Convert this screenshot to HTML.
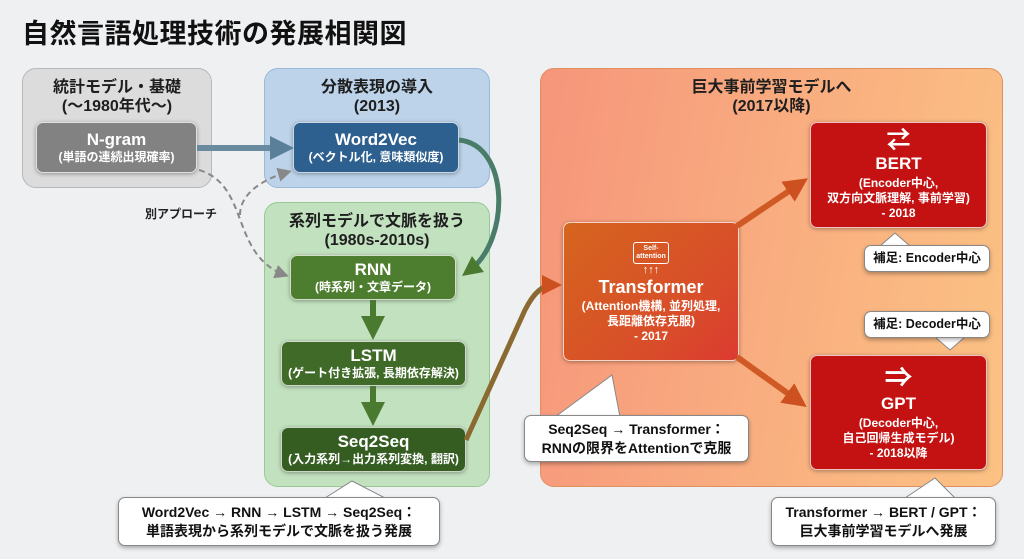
<!DOCTYPE html>
<html><head><meta charset="utf-8"><style>
*{margin:0;padding:0;box-sizing:border-box}
body{width:1024px;height:559px;background:#eef0f2;position:relative;overflow:hidden;font-family:"Liberation Sans","Noto Sans CJK JP",sans-serif;font-weight:bold}
.a{position:absolute}
.grp{position:absolute;border-radius:14px;text-align:center;color:#1e1e1e;font-size:16px;line-height:19px;padding-top:9px}
.node{position:absolute;border-radius:7px;text-align:center;color:#fff;border:1.5px solid rgba(255,255,255,.75);box-shadow:0 1px 4px rgba(0,0,0,.35);display:flex;flex-direction:column;justify-content:center}
.node b{font-size:17px;line-height:20px}
.node span{font-size:12px;line-height:15px}
.call{position:absolute;background:#fff;border:1px solid #888;border-radius:7px;text-align:center;color:#111;box-shadow:0 2px 4px rgba(0,0,0,.3);font-size:14px;line-height:19px;display:flex;flex-direction:column;justify-content:center}
</style></head><body>
<div class="a" style="left:22px;top:12px;font-size:27px;color:#111;letter-spacing:0.5px">自然言語処理技術の発展相関図</div>

<div class="grp" style="left:22px;top:68px;width:190px;height:120px;background:#dcdcdc;border:1px solid #b8b8b8">統計モデル・基礎<br>(〜1980年代〜)</div>
<div class="grp" style="left:264px;top:68px;width:226px;height:120px;background:#bcd3ea;border:1px solid #9ab8d8">分散表現の導入<br>(2013)</div>
<div class="grp" style="left:264px;top:202px;width:226px;height:285px;background:#c2e2bf;border:1px solid #98c894">系列モデルで文脈を扱う<br>(1980s-2010s)</div>
<div class="grp" style="left:540px;top:68px;width:463px;height:419px;background:linear-gradient(100deg,#f6957a 0%,#f9ad80 50%,#fbc283 100%);border:1px solid #e09060">巨大事前学習モデルへ<br>(2017以降)</div>

<div class="node" style="left:36px;top:122px;width:161px;height:51px;background:#828282"><b>N-gram</b><span>(単語の連続出現確率)</span></div>
<div class="node" style="left:293px;top:122px;width:166px;height:51px;background:#2d5f8f"><b>Word2Vec</b><span>(ベクトル化, 意味類似度)</span></div>
<div class="node" style="left:290px;top:255px;width:166px;height:45px;background:#4d7d2f"><b>RNN</b><span>(時系列・文章データ)</span></div>
<div class="node" style="left:281px;top:341px;width:185px;height:45px;background:#3f6a28"><b>LSTM</b><span>(ゲート付き拡張, 長期依存解決)</span></div>
<div class="node" style="left:281px;top:427px;width:185px;height:45px;background:#355d22"><b>Seq2Seq</b><span>(入力系列→出力系列変換, 翻訳)</span></div>

<div class="node" style="left:563px;top:222px;width:176px;height:139px;background:linear-gradient(135deg,#d5651e,#d94c2a 70%,#dc3a30);padding-top:2px">
<div style="margin:0 auto 1px;width:36px;border:1px solid #fff;border-radius:3px;font-size:7px;line-height:8px;padding:2px 1px">Self-<br>attention</div>
<div style="font-size:11px;line-height:11px">↑↑↑</div>
<b style="font-size:18px;line-height:23px">Transformer</b><span>(Attention機構, 並列処理,<br>長距離依存克服)<br>- 2017</span></div>

<div class="node" style="left:810px;top:122px;width:177px;height:106px;background:#c41212"><div style="font-size:24px;line-height:22px">⇄</div><b style="line-height:24px">BERT</b><span>(Encoder中心,<br>双方向文脈理解, 事前学習)<br>- 2018</span></div>
<div class="node" style="left:810px;top:355px;width:177px;height:115px;background:#c41212"><div style="font-size:28px;line-height:28px">⇒</div><b style="line-height:24px">GPT</b><span>(Decoder中心,<br>自己回帰生成モデル)<br>- 2018以降</span></div>

<svg class="a" style="left:0;top:0" width="1024" height="559">
<defs>
<marker id="mg" markerWidth="4" markerHeight="4" refX="2" refY="2" orient="auto"><path d="M0,0L4,2L0,4z" fill="#5a7f98"/></marker>
<marker id="md" markerWidth="7" markerHeight="7" refX="5" refY="3.5" orient="auto"><path d="M0,0L7,3.5L0,7z" fill="#888"/></marker>
<marker id="mn" markerWidth="4" markerHeight="4" refX="2" refY="2" orient="auto"><path d="M0,0L4,2L0,4z" fill="#4a7a30"/></marker>
<marker id="mo" markerWidth="4" markerHeight="4" refX="2" refY="2" orient="auto"><path d="M0,0L4,2L0,4z" fill="#cc5020"/></marker>
</defs>
<path d="M197,148 L282,148" stroke="#6a8aa0" stroke-width="6" marker-end="url(#mg)"/>
<path d="M459,140 C510,145 510,240 470,270" stroke="#4a7c6a" stroke-width="5" fill="none" marker-end="url(#mn)"/>
<path d="M199,170 C250,185 230,255 285,275" stroke="#888" stroke-width="2" stroke-dasharray="6,4" fill="none" marker-end="url(#md)"/>
<path d="M240,215 C240,195 260,180 288,172" stroke="#888" stroke-width="2" stroke-dasharray="6,4" fill="none" marker-end="url(#md)"/>
<path d="M373,300 L373,328" stroke="#4a7a30" stroke-width="6" marker-end="url(#mn)"/>
<path d="M373,386 L373,414" stroke="#4a7a30" stroke-width="6" marker-end="url(#mn)"/>
<path d="M466,440 L525,310 C535,290 545,285 552,285" stroke="#8a6a30" stroke-width="5" fill="none" marker-end="url(#mo)"/>
<path d="M737,226 L798,185" stroke="#d05a25" stroke-width="6" marker-end="url(#mo)"/>
<path d="M737,357 L797,400" stroke="#d05a25" stroke-width="6" marker-end="url(#mo)"/>
<path d="M880,246 L895,233 L910,246" fill="#fff" stroke="#888"/>
<path d="M935,337 L950,350 L965,337" fill="#fff" stroke="#888"/>
<path d="M555,417 L612,375 L620,417" fill="#fff" stroke="#888"/>
<path d="M325,498 L352,481 L385,498" fill="#fff" stroke="#888"/>
<path d="M905,498 L935,478 L955,498" fill="#fff" stroke="#888"/>
</svg>
<div class="a" style="left:145px;top:205px;font-size:12px;color:#222">別アプローチ</div>

<div class="call" style="left:864px;top:245px;width:126px;height:27px;font-size:12.5px">補足: Encoder中心</div>
<div class="call" style="left:864px;top:311px;width:126px;height:27px;font-size:12.5px">補足: Decoder中心</div>
<div class="call" style="left:524px;top:415px;width:225px;height:47px">Seq2Seq → Transformer：<br>RNNの限界をAttentionで克服</div>
<div class="call" style="left:118px;top:497px;width:322px;height:49px">Word2Vec → RNN → LSTM → Seq2Seq：<br>単語表現から系列モデルで文脈を扱う発展</div>
<div class="call" style="left:771px;top:497px;width:225px;height:49px">Transformer → BERT / GPT：<br>巨大事前学習モデルへ発展</div>
</body></html>
